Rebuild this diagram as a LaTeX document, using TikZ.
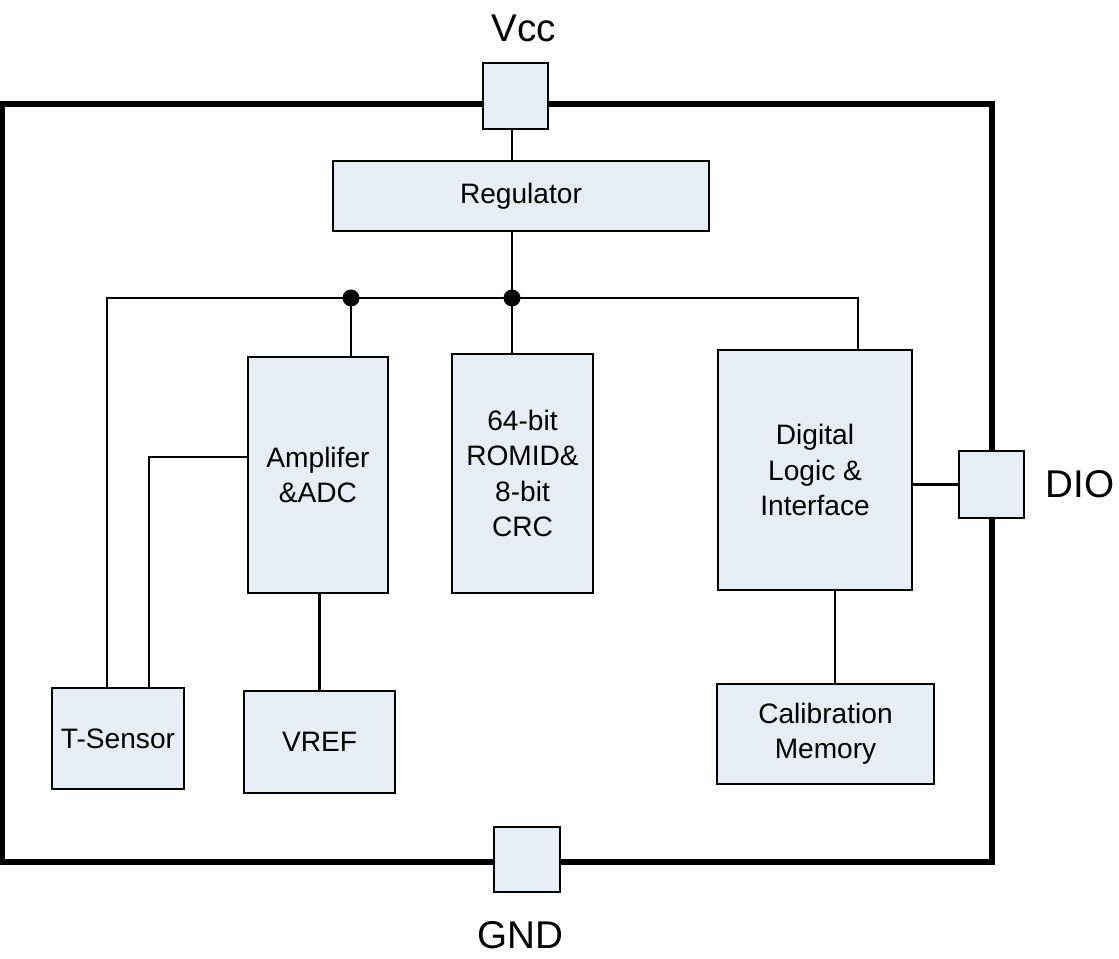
\documentclass[tikz,border=0pt]{standalone}
\usepackage{fontspec}
\setmainfont{Liberation Sans}
\usepackage{tikz}

\definecolor{boxfill}{RGB}{232,236,245}

\begin{document}
\begin{tikzpicture}[x=0.02cm, y=-0.02cm,
    wire/.style={line width=1.3pt},
    frame/.style={line width=3.4pt},
    block/.style={draw, line width=1.3pt, fill=boxfill, inner sep=0pt, align=center,
      font=\fontsize{16}{20}\selectfont},
    pad/.style={draw, line width=1.3pt, fill=boxfill, inner sep=0pt},
    pin/.style={font=\fontsize{22}{26}\selectfont},
    dot/.style={circle, fill=black, inner sep=0pt, minimum size=0.34cm}]
  \useasboundingbox (0,0) rectangle (1119,959);
  % package outline
  \draw[frame] (2,104) rectangle (992,862);
  % pads
  \node[pad, minimum width=1.3cm, minimum height=1.32cm] (vcc) at (515.5,96) {};
  \node[pad, minimum width=1.32cm, minimum height=1.3cm] (gnd) at (527,859.5) {};
  \node[pad, minimum width=1.3cm, minimum height=1.34cm] (dio) at (991.5,484.5) {};
  \node[pin] (vcclabel) at (524,28) {Vcc};
  \node[pin] (gndlabel) at (520,935) {GND};
  \node[pin] (diolabel) at (1080,484) {DIO};
  % blocks
  \node[block, minimum width=7.52cm, minimum height=1.4cm] (reg) at (521,196) {Regulator};
  \node[block, minimum width=2.8cm, minimum height=4.72cm] (amp) at (318,475) {Amplifer\\\&ADC};
  \node[block, minimum width=2.82cm, minimum height=4.78cm] (rom) at (522.5,473.5) {64-bit\\ROMID\&\\8-bit\\CRC};
  \node[block, minimum width=3.88cm, minimum height=4.8cm] (dig) at (815,470) {Digital\\Logic \&\\Interface};
  \node[block, minimum width=2.64cm, minimum height=2.02cm] (tsen) at (118,738.5) {T-Sensor};
  \node[block, minimum width=3.02cm, minimum height=2.04cm] (vref) at (319.5,742) {VREF};
  \node[block, minimum width=4.34cm, minimum height=2.0cm] (cal) at (825.5,734) {Calibration\\Memory};
  % supply bus
  \coordinate (busL) at (107,298);
  \coordinate (busR) at (858,298);
  \coordinate (tap) at (149,457);
  \coordinate (calk) at (835,0);
  \node[dot] (jA) at (351,298) {};
  \node[dot] (jR) at (512,298) {};
  \draw[wire] (vcc.south -| jR) -- (reg.north -| jR);
  \draw[wire] (reg.south -| jR) -- (jR.center) -- (rom.north -| jR);
  \draw[wire] (busL |- tsen.north) -- (busL) -- (busR) -- (busR |- dig.north);
  \draw[wire] (jA.center) -- (jA |- amp.north);
  % signals
  \draw[wire] (amp.west |- tap) -- (tap) -- (tap |- tsen.north);
  \draw[wire] (amp.south -| vref.north) -- (vref.north);
  \draw[wire] (dig.east |- dio) -- (dio.west);
  \draw[wire] (dig.south -| calk) -- (cal.north -| calk);
\end{tikzpicture}
\end{document}
